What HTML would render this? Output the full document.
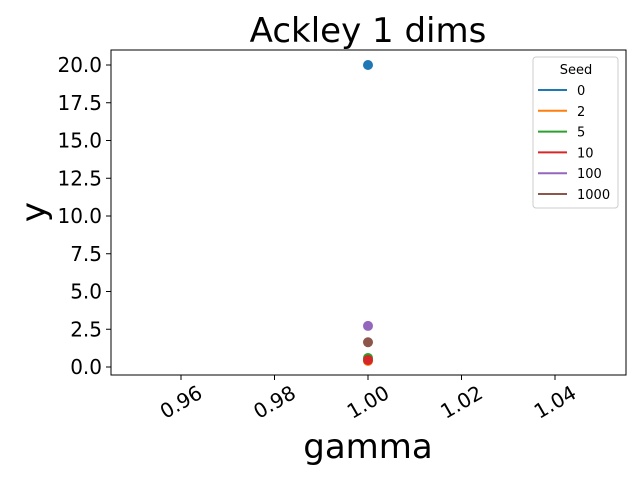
<!DOCTYPE html>
<html><head><meta charset="utf-8"><style>
body{margin:0;background:#fff;font-family:"Liberation Sans","DejaVu Sans",sans-serif}
</style></head><body>
<svg width="640" height="480" xmlns="http://www.w3.org/2000/svg" id="svg" font-family="DejaVu Sans, Liberation Sans, sans-serif">
<text x="368" y="42" font-size="34" text-anchor="middle">Ackley 1 dims</text>
<rect x="111" y="50" width="515" height="325" fill="none" stroke="#000" stroke-width="1"/>
<g id="xt"></g>
<g id="yt"></g>
<g id="pts"></g>
<text x="368" y="458" font-size="34" text-anchor="middle">gamma</text>
<text transform="translate(45,212) rotate(-90)" font-size="34" text-anchor="middle">y</text>
<g id="leg">
<rect x="533" y="57" width="85" height="151" rx="3" fill="#fff" stroke="#ccc"/>
<text x="576" y="74" font-size="13" text-anchor="middle">Seed</text>
</g>
</svg>
<script>
const seeds=['0','2','5','10','100','1000'];
const colors=['#1f77b4','#ff7f0e','#2ca02c','#d62728','#9467bd','#8c564b'];
const gammas=[1.0,1.0,1.0,1.0,1.0,1.0];
const yvals=[20.0,0.4,0.6,0.46,2.72,1.64];
const xTicks=[0.96,0.98,1.00,1.02,1.04];
const yTicks=[0,2.5,5,7.5,10,12.5,15,17.5,20];
const NS='http://www.w3.org/2000/svg';
const X=v=>368+(v-1.0)/0.02*93.5;
const Y=v=>367-v*15.1;
function mk(t,a,p){const e=document.createElementNS(NS,t);for(const k in a)e.setAttribute(k,a[k]);p.appendChild(e);return e;}
const xt=document.getElementById('xt');
xTicks.forEach(v=>{const x=X(v);
const l=mk('line',{x1:x,x2:x,y1:375,y2:380,stroke:'#000'},xt);


const t=mk('text',{x:0,y:7,'font-size':20,'text-anchor':'middle',transform:`translate(${x},${402}) rotate(-30)`},xt);
t.textContent=v.toFixed(2);

});
const yt=document.getElementById('yt');
yTicks.forEach(v=>{const y=Y(v);
const l=mk('line',{x1:106,x2:111,y1:y,y2:y,stroke:'#000'},yt);


const t=mk('text',{x:102,y:y+7,'font-size':20,'text-anchor':'end'},yt);
t.textContent=v.toFixed(1);

});
const pts=document.getElementById('pts');
yvals.forEach((v,i)=>{const c=mk('circle',{cx:X(gammas[i]),cy:Y(v),r:5,fill:colors[i]},pts);

});
const leg=document.getElementById('leg');
seeds.forEach((s,i)=>{const y=90+i*20.8;
const l=mk('line',{x1:538,x2:567,y1:y,y2:y,stroke:colors[i],'stroke-width':2},leg);


const t=mk('text',{x:577,y:y+5,'font-size':13},leg);
t.textContent=s;

});
</script>
</body></html>
